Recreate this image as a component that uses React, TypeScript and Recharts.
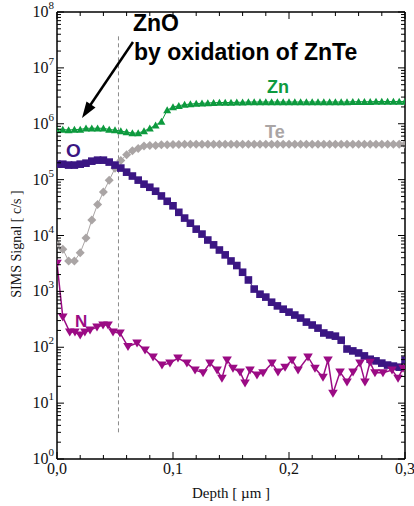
import React from "react";
import { LineChart, Line, XAxis, YAxis, ReferenceLine } from "recharts";

// depth grid (µm) shared by the Zn, Te and O profiles
const depthFine = [
  0, 0.005, 0.01, 0.015, 0.02, 0.025, 0.03, 0.035, 0.04, 0.045, 0.05, 0.055, 0.06, 0.065, 0.07,
  0.075, 0.08, 0.085, 0.09, 0.095, 0.1, 0.105, 0.11, 0.115, 0.12, 0.125, 0.13, 0.135, 0.14, 0.145,
  0.15, 0.155, 0.16, 0.165, 0.17, 0.175, 0.18, 0.185, 0.19, 0.195, 0.2, 0.205, 0.21, 0.215, 0.22,
  0.225, 0.23, 0.235, 0.24, 0.245, 0.25, 0.255, 0.26, 0.265, 0.27, 0.275, 0.28, 0.285, 0.29, 0.295, 0.3,
];

const znSignal = [
  7.7e5, 7.9e5, 7.7e5, 7.9e5, 7.9e5, 8.3e5, 8.3e5, 8.3e5, 8.3e5, 7.9e5, 7.7e5, 7.4e5, 7.1e5, 6.8e5, 6.8e5,
  7.4e5, 8.3e5, 9.4e5, 1.1e6, 1.75e6, 2.0e6, 2.1e6, 2.2e6, 2.25e6, 2.3e6, 2.32e6, 2.35e6, 2.38e6, 2.4e6, 2.4e6,
  2.4e6, 2.42e6, 2.42e6, 2.45e6, 2.45e6, 2.45e6, 2.45e6, 2.45e6, 2.45e6, 2.45e6, 2.45e6, 2.45e6, 2.45e6, 2.45e6, 2.45e6,
  2.45e6, 2.45e6, 2.45e6, 2.45e6, 2.45e6, 2.45e6, 2.48e6, 2.48e6, 2.48e6, 2.48e6, 2.5e6, 2.5e6, 2.5e6, 2.5e6, 2.5e6, 2.5e6,
];

const teSignal = [
  7.0e3, 5.7e3, 3.5e3, 3.5e3, 4.9e3, 9.0e3, 1.9e4, 3.6e4, 6.0e4, 9.7e4, 1.6e5, 2.2e5, 2.8e5, 3.3e5, 3.6e5,
  4.0e5, 4.1e5, 4.1e5, 4.2e5, 4.2e5, 4.25e5, 4.25e5, 4.3e5, 4.3e5, 4.3e5, 4.3e5, 4.3e5, 4.3e5, 4.3e5, 4.3e5,
  4.3e5, 4.3e5, 4.3e5, 4.3e5, 4.3e5, 4.3e5, 4.3e5, 4.3e5, 4.3e5, 4.3e5, 4.3e5, 4.3e5, 4.3e5, 4.3e5, 4.3e5,
  4.3e5, 4.3e5, 4.3e5, 4.3e5, 4.3e5, 4.3e5, 4.3e5, 4.3e5, 4.3e5, 4.3e5, 4.3e5, 4.3e5, 4.3e5, 4.3e5, 4.3e5, 4.3e5,
];

const oSignal = [
  1.89e5, 1.89e5, 1.82e5, 1.82e5, 1.89e5, 1.97e5, 2.14e5, 2.23e5, 2.23e5, 2.06e5, 1.82e5, 1.61e5, 1.36e5, 1.16e5, 9.8e4,
  8.3e4, 7.3e4, 6.2e4, 5.1e4, 4.1e4, 3.4e4, 2.6e4, 2.05e4, 1.66e4, 1.3e4, 1.06e4, 8.3e3, 6.8e3, 5.5e3, 4.5e3,
  3.5e3, 2.9e3, 2.2e3, 1.6e3, 1.1e3, 890, 790, 640, 550, 480, 425, 377, 333, 282, 250,
  220, 180, 166, 158, 134, 93, 86, 79, 70, 61, 57, 52, 48, 46, 44, 59,
];

const depthN = [
  0, 0.005, 0.011, 0.0155, 0.02, 0.024, 0.0285, 0.0345, 0.0397, 0.044, 0.0483, 0.0543, 0.0612, 0.069,
  0.0759, 0.0828, 0.0905, 0.0974, 0.1043, 0.112, 0.119, 0.1259, 0.1319, 0.138, 0.1422, 0.1466, 0.1517,
  0.1578, 0.1621, 0.1664, 0.1724, 0.1776, 0.1853, 0.1905, 0.1966, 0.2026, 0.2078, 0.2164, 0.2224, 0.2293,
  0.2336, 0.2379, 0.244, 0.25, 0.2552, 0.2612, 0.2655, 0.2698, 0.2741, 0.281, 0.2888, 0.294, 0.2983,
];

const nSignal = [
  3200, 347, 187, 187, 165, 187, 203, 230, 250, 250, 187, 180, 103, 119,
  89, 67, 48, 52, 64, 52, 39, 35, 52, 39, 28, 59, 42,
  36, 23, 39, 32, 35, 52, 36, 44, 59, 39, 67, 42, 29,
  59, 15, 36, 24, 36, 52, 24, 54, 35, 35, 39, 28, 42,
];

const yTicks = [1, 10, 100, 1e3, 1e4, 1e5, 1e6, 1e7].flatMap((d) =>
  [1, 2, 3, 4, 5, 6, 7, 8, 9].map((m) => m * d)
).concat([1e8]);

const xTicks = [
  0, 0.02, 0.04, 0.06, 0.08, 0.1, 0.12, 0.14, 0.16, 0.18, 0.2, 0.22, 0.24, 0.26, 0.28, 0.3,
];
const xLabels = ["0,0", "0,1", "0,2", "0,3"];

const ZN = "#0d9a3e";
const TE = "#aaa5a5";
const OX = "#3b1683";
const NI = "#9b0b84";

const zip = (xs: number[], ys: number[]) => xs.map((depth, i) => ({ depth, v: ys[i] }));

const isDecade = (v: number) => Math.abs(Math.log10(v) - Math.round(Math.log10(v))) < 1e-6;
const isMajorX = (v: number) => Math.abs(v * 10 - Math.round(v * 10)) < 1e-6;

const serif = "'Liberation Serif', 'Times New Roman', serif";
const sans = "'Liberation Sans', Arial, sans-serif";

function LeftTick({ x, y, payload }: any) {
  const major = isDecade(payload.value);
  return (
    <g>
      <line x1={x} x2={x + (major ? 7 : 4)} y1={y} y2={y} stroke="#000" strokeWidth={1} />
      {major && (
        <text x={x - 3} y={y + 5} textAnchor="end" fontFamily={serif} fontSize={16} fill="#111">
          <tspan>10</tspan>
          <tspan dy={-8} fontSize={11}>
            {Math.round(Math.log10(payload.value))}
          </tspan>
        </text>
      )}
    </g>
  );
}

function RightTick({ x, y, payload }: any) {
  const major = isDecade(payload.value);
  return <line x1={x} x2={x - (major ? 7 : 4)} y1={y} y2={y} stroke="#000" strokeWidth={1} />;
}

function BottomTick({ x, y, payload }: any) {
  const major = isMajorX(payload.value);
  return (
    <g>
      <line x1={x} x2={x} y1={y} y2={y - (major ? 7 : 4)} stroke="#000" strokeWidth={1} />
      {major && (
        <text x={x} y={y + 15} textAnchor="middle" fontFamily={serif} fontSize={16} fill="#111">
          {xLabels[Math.round(payload.value * 10)]}
        </text>
      )}
    </g>
  );
}

function TopTick({ x, y, payload }: any) {
  const major = isMajorX(payload.value);
  return <line x1={x} x2={x} y1={y} y2={y + (major ? 7 : 4)} stroke="#000" strokeWidth={1} />;
}

const triUp = (p: any) => {
  const { cx, cy, index } = p;
  if (cx == null || cy == null) return <g key={index} />;
  return <path key={index} d={`M${cx - 4},${cy + 3.2} L${cx + 4},${cy + 3.2} L${cx},${cy - 3.8} Z`} fill={ZN} />;
};

const diamond = (p: any) => {
  const { cx, cy, index } = p;
  if (cx == null || cy == null) return <g key={index} />;
  return <path key={index} d={`M${cx},${cy - 4.5} L${cx + 4.5},${cy} L${cx},${cy + 4.5} L${cx - 4.5},${cy} Z`} fill={TE} />;
};

const square = (p: any) => {
  const { cx, cy, index } = p;
  if (cx == null || cy == null) return <g key={index} />;
  return <rect key={index} x={cx - 3.8} y={cy - 3.8} width={7.6} height={7.6} fill={OX} />;
};

const triDown = (p: any) => {
  const { cx, cy, index } = p;
  if (cx == null || cy == null) return <g key={index} />;
  return <path key={index} d={`M${cx - 4.8},${cy - 3.5} L${cx + 4.8},${cy - 3.5} L${cx},${cy + 4.5} Z`} fill={NI} />;
};

export default function App() {
  return (
    <div style={{ position: "absolute", left: 0, top: 0, width: 414, height: 506, background: "#fff" }}>
      <LineChart width={414} height={506} margin={{ top: 0, right: 0, bottom: 7, left: 7 }}>
        <XAxis
          xAxisId="b"
          type="number"
          dataKey="depth"
          domain={[0, 0.3]}
          ticks={xTicks}
          interval={0}
          height={40}
          tickSize={0}
          tickMargin={0}
          tick={<BottomTick />}
          axisLine={{ stroke: "#000", strokeWidth: 1.5 }}
          allowDataOverflow
        />
        <XAxis
          xAxisId="t"
          orientation="top"
          type="number"
          dataKey="depth"
          domain={[0, 0.3]}
          ticks={xTicks}
          interval={0}
          height={12}
          tickSize={0}
          tickMargin={0}
          tick={<TopTick />}
          axisLine={{ stroke: "#000", strokeWidth: 1.5 }}
          allowDataOverflow
        />
        <YAxis
          yAxisId="l"
          type="number"
          scale="log"
          domain={[1, 1e8]}
          ticks={yTicks}
          interval={0}
          width={50}
          tickSize={0}
          tickMargin={0}
          tick={<LeftTick />}
          axisLine={{ stroke: "#000", strokeWidth: 1.5 }}
          allowDataOverflow
        />
        <YAxis
          yAxisId="r"
          orientation="right"
          type="number"
          scale="log"
          domain={[1, 1e8]}
          ticks={yTicks}
          interval={0}
          width={9}
          tickSize={0}
          tickMargin={0}
          tick={<RightTick />}
          axisLine={{ stroke: "#000", strokeWidth: 1.5 }}
          allowDataOverflow
        />
        <ReferenceLine
          xAxisId="b"
          yAxisId="l"
          segment={[
            { x: 0.053, y: 3 },
            { x: 0.053, y: 4e7 },
          ]}
          stroke="#8a8a8a"
          strokeDasharray="4 3"
          strokeWidth={1}
        />
        <Line
          xAxisId="b"
          yAxisId="l"
          data={zip(depthFine, teSignal)}
          dataKey="v"
          stroke={TE}
          strokeWidth={1}
          dot={diamond}
          activeDot={false}
          isAnimationActive={false}
        />
        <Line
          xAxisId="b"
          yAxisId="l"
          data={zip(depthFine, znSignal)}
          dataKey="v"
          stroke={ZN}
          strokeWidth={1}
          dot={triUp}
          activeDot={false}
          isAnimationActive={false}
        />
        <Line
          xAxisId="b"
          yAxisId="l"
          data={zip(depthFine, oSignal)}
          dataKey="v"
          stroke={OX}
          strokeWidth={1}
          dot={square}
          activeDot={false}
          isAnimationActive={false}
        />
        <Line
          xAxisId="b"
          yAxisId="l"
          data={zip(depthN, nSignal)}
          dataKey="v"
          stroke={NI}
          strokeWidth={1.5}
          dot={triDown}
          activeDot={false}
          isAnimationActive={false}
        />
      </LineChart>
      <svg
        width={414}
        height={506}
        style={{ position: "absolute", left: 0, top: 0, pointerEvents: "none" }}
      >
        <text x={133} y={31} fontFamily={sans} fontWeight="bold" fontSize={23} fill="#000">
          ZnO
        </text>
        <text x={134} y={60} fontFamily={sans} fontWeight="bold" fontSize={23} fill="#000">
          by oxidation of ZnTe
        </text>
        <line x1={133} y1={42} x2={89} y2={107} stroke="#000" strokeWidth={2.5} />
        <polygon points="82,118 95.5,107.5 86.5,101.5" fill="#000" />
        <text x={267} y={93} fontFamily={sans} fontWeight="bold" fontSize={18} fill={ZN}>
          Zn
        </text>
        <text x={265} y={138} fontFamily={sans} fontWeight="bold" fontSize={18} fill={TE}>
          Te
        </text>
        <text x={66} y={157} fontFamily={sans} fontWeight="bold" fontSize={19} fill={OX}>
          O
        </text>
        <text x={75} y={327} fontFamily={sans} fontWeight="bold" fontSize={17} fill={NI}>
          N
        </text>
        <text
          transform="translate(21,244) rotate(-90)"
          textAnchor="middle"
          fontFamily={serif}
          fontSize={14}
          fill="#111"
        >
          SIMS Signal [ c/s ]
        </text>
        <text x={231} y={498} textAnchor="middle" fontFamily={serif} fontSize={15} fill="#111">
          Depth [ µm ]
        </text>
      </svg>
    </div>
  );
}
